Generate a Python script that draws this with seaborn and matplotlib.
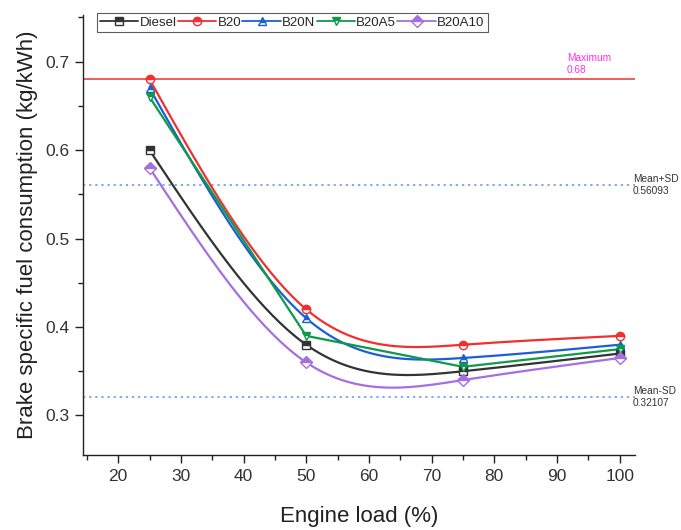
import numpy as np
import pandas as pd
import matplotlib
matplotlib.use("Agg")
import matplotlib.pyplot as plt
from matplotlib.lines import Line2D
from matplotlib.ticker import MultipleLocator
import seaborn as sns

load = [25, 50, 75, 100]
diesel = [0.60, 0.38, 0.35, 0.37]
b20 = [0.68, 0.42, 0.38, 0.39]
b20n = [0.67, 0.41, 0.365, 0.38]
b20a5 = [0.66, 0.39, 0.355, 0.375]
b20a10 = [0.58, 0.36, 0.34, 0.365]
series_names = ["Diesel", "B20", "B20N", "B20A5", "B20A10"]
maximum = 0.68
mean_plus_sd = 0.56093
mean_minus_sd = 0.32107

sns.set_theme(style="ticks")
plt.rcParams["font.family"] = ["Liberation Sans", "DejaVu Sans"]

colors = ["#333333", "#f03030", "#1a5fd6", "#0e9a48", "#a66fe0"]
markers = ["s", "o", "^", "v", "D"]
smooth = [True, True, True, False, True]
values = [diesel, b20, b20n, b20a5, b20a10]


def natural_spline(x, y, n=200):
    x = np.asarray(x, float); y = np.asarray(y, float)
    k = len(x); h = np.diff(x)
    A = np.zeros((k, k)); r = np.zeros(k)
    A[0, 0] = A[-1, -1] = 1
    for i in range(1, k - 1):
        A[i, i - 1] = h[i - 1]; A[i, i] = 2 * (h[i - 1] + h[i]); A[i, i + 1] = h[i]
        r[i] = 3 * ((y[i + 1] - y[i]) / h[i] - (y[i] - y[i - 1]) / h[i - 1])
    c = np.linalg.solve(A, r)
    b = (y[1:] - y[:-1]) / h - h * (2 * c[:-1] + c[1:]) / 3
    d = (c[1:] - c[:-1]) / (3 * h)
    xs = np.linspace(x[0], x[-1], n)
    idx = np.clip(np.searchsorted(x, xs) - 1, 0, k - 2)
    t = xs - x[idx]
    ys = y[idx] + b[idx] * t + c[idx] * t ** 2 + d[idx] * t ** 3
    return xs, ys


fig = plt.figure(figsize=(6.81, 5.30), dpi=100)
ax = fig.add_axes([0.122, 0.141, 0.81, 0.831])

for name, vals, col, mk, sm in zip(series_names, values, colors, markers, smooth):
    if sm:
        xs, ys = natural_spline(load, vals)
    else:
        xs, ys = np.array(load, float), np.array(vals, float)
    df = pd.DataFrame({"x": xs, "y": ys})
    sns.lineplot(data=df, x="x", y="y", ax=ax, color=col, lw=1.6, sort=False, estimator=None)
    ax.plot(load, vals, ls="none", marker=mk, ms=6, color=col, mfc=col,
            mfcalt="white", fillstyle="top", mec=col, mew=1.0, zorder=5)

ax.axhline(maximum, color="#f05050", lw=1.3, zorder=1)
ax.axhline(mean_plus_sd, color="#5b94f0", lw=1.1, ls=(0, (1.5, 2.5)), zorder=1)
ax.axhline(mean_minus_sd, color="#5b94f0", lw=1.1, ls=(0, (1.5, 2.5)), zorder=1)

trans = ax.get_yaxis_transform()
ax.text(0.877, maximum + 0.005, "Maximum\n0.68", transform=trans, color="#ff33dd",
        fontsize=7.3, ha="left", va="bottom", linespacing=1.25, clip_on=False)
ax.text(0.997, mean_plus_sd, "Mean+SD\n0.56093", transform=trans, color="#333333",
        fontsize=7.3, ha="left", va="center", linespacing=1.25, clip_on=False)
ax.text(0.997, mean_minus_sd, "Mean-SD\n0.32107", transform=trans, color="#333333",
        fontsize=7.3, ha="left", va="center", linespacing=1.25, clip_on=False)

ax.set_xlim(14.4, 102.4)
ax.set_ylim(0.255, 0.753)
ax.xaxis.set_major_locator(MultipleLocator(10))
ax.xaxis.set_minor_locator(MultipleLocator(5))
ax.yaxis.set_major_locator(MultipleLocator(0.1))
ax.yaxis.set_minor_locator(MultipleLocator(0.05))
ax.set_xticks(range(20, 101, 10))
ax.tick_params(which="major", direction="out", length=6, width=1, labelsize=12.5,
               pad=4, colors="#222222")
ax.tick_params(which="minor", direction="out", length=3.5, width=1, colors="#222222")
ax.tick_params(axis="both", labelcolor="#333333")
sns.despine(ax=ax)
for s in ["left", "bottom"]:
    ax.spines[s].set_color("#222222")
    ax.spines[s].set_linewidth(1.0)

ax.set_xlabel("Engine load (%)", fontsize=16, color="#222222", labelpad=16)
ax.set_ylabel("Brake specific fuel consumption (kg/kWh)", fontsize=16, color="#222222", labelpad=5)

handles = [Line2D([], [], color=c, marker=m, ms=6, mfc=c, mfcalt="white", fillstyle="top",
                  mec=c, lw=1.3) for c, m in zip(colors, markers)]
leg = ax.legend(handles, series_names, loc="upper left", bbox_to_anchor=(0.02, 1.01), ncol=5,
                frameon=True, fontsize=9.5, handlelength=2.9, handletextpad=0.1, columnspacing=0.1,
                borderpad=0.25, borderaxespad=0.2, fancybox=False)
leg.get_frame().set_edgecolor("#333333")
leg.get_frame().set_linewidth(0.8)

fig.savefig("out.png", dpi=100)
